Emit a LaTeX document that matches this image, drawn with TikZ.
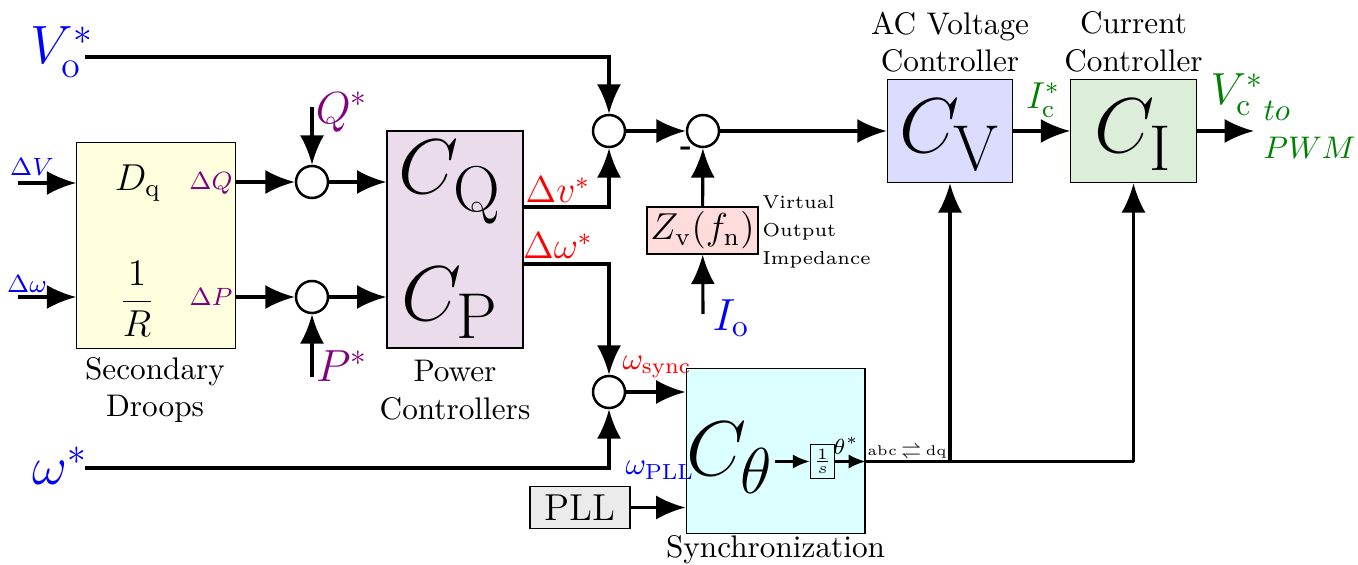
\documentclass[tikz,border=0pt]{standalone}
\usepackage{amsmath}
\usetikzlibrary{arrows.meta}
\definecolor{lblue}{RGB}{0,0,255}
\definecolor{lpurple}{RGB}{128,0,128}
\definecolor{lgreen}{RGB}{0,128,0}
\definecolor{droopfill}{RGB}{255,255,222}
\definecolor{powfill}{RGB}{235,220,236}
\definecolor{cvfill}{RGB}{220,220,255}
\definecolor{cifill}{RGB}{220,237,218}
\definecolor{syncfill}{RGB}{220,255,255}
\definecolor{zvfill}{RGB}{255,220,220}
\definecolor{pllfill}{RGB}{235,235,235}
\begin{document}
\begin{tikzpicture}[
	x=0.01125cm, y=-0.01125cm,
	block/.style={ draw, thin, inner sep=1pt },
	sumc/.style={ circle, draw, thick, fill=white, inner sep=0pt, minimum size=0.36cm },
	arr/.style={ line width=1pt, -{Latex[length=3.3mm,width=2.7mm]} },
	arrs/.style={ line width=0.8pt, -{Latex[length=1.9mm,width=1.6mm]} },
	wire/.style={ line width=1pt },
	lbl/.style={ inner sep=0pt }
]
\useasboundingbox (0,0) rectangle (1358,565);

\node at (156,245.5) (droop) [block,fill=droopfill,minimum width=1.78cm,minimum height=2.31cm] {};
\node at (455,239.5) (power) [block,fill=powfill,minimum width=1.53cm,minimum height=2.44cm] {};
\node at (950,131) (cv) [block,fill=cvfill,minimum width=1.41cm,minimum height=1.16cm] {};
\node at (1133.5,131) (ci) [block,fill=cifill,minimum width=1.41cm,minimum height=1.16cm] {};
\node at (702.5,230.5) (zv) [block,fill=zvfill,minimum width=1.25cm,minimum height=0.53cm] {\large $Z_{\mathrm{v}}(f_{\mathrm{n}})$};
\node at (775.5,451) (sync) [block,fill=syncfill,minimum width=2.01cm,minimum height=1.85cm] {};
\node at (580,507.5) (pll) [block,fill=pllfill,minimum width=1.125cm,minimum height=0.48cm] {\large PLL};
\node at (822.5,461.5) (integ) [block,fill=syncfill,minimum width=0.24cm,minimum height=0.39cm] {\tiny $\frac{1}{s}$};

\node at (609,131) (s1) [sumc] {};
\node at (703,131) (s2) [sumc] {};
\node at (609,392) (s3) [sumc] {};
\node at (312,182) (sq) [sumc] {};
\node at (312,297) (sp) [sumc] {};

\coordinate (voin) at (85,57);
\coordinate (dvin) at (18,183);
\coordinate (dwin) at (18,297);
\coordinate (qin) at (312,107);
\coordinate (pin) at (312,377);
\coordinate (dvout) at (523,207);
\coordinate (dwout) at (523,264);
\coordinate (win) at (85,468);
\coordinate (ioin) at (703,314);
\coordinate (vcout) at (1254,131);
\coordinate (cth) at (775,461.5);
\coordinate (cvtap) at (cv |- integ);
\coordinate (citap) at (ci |- integ);

% texts
\node at (62,52) (volab) [lbl,text=lblue] {\LARGE $V^*_{\mathrm{o}}$};
\node at (60,466) (wlab) [lbl,text=lblue] {\LARGE $\omega^*$};
\node at (32,167) (dvlab) [lbl,text=lblue] {\footnotesize $\Delta V$};
\node at (27,284) (dwlab) [lbl,text=lblue] {\footnotesize $\Delta\omega$};
\node at (138,183) (dqlab) [lbl] {\large $D_{\mathrm{q}}$};
\node at (137,299) (rlab) [lbl] {\large $\dfrac{1}{R}$};
\node at (211,183) (dQlab) [lbl,text=lpurple] {\footnotesize $\Delta Q$};
\node at (211,297) (dPlab) [lbl,text=lpurple] {\footnotesize $\Delta P$};
\node at (342,112) (qlab) [lbl,text=lpurple] {\Large $Q^*$};
\node at (342,366) (plab) [lbl,text=lpurple] {\Large $P^*$};
\node at (450,182) (cqlab) [lbl] {\Huge $C_{\mathrm{Q}}$};
\node at (450,303) (cplab) [lbl] {\Huge $C_{\mathrm{P}}$};
\node at (558,190) (dvslab) [lbl,text=red] {\large $\Delta v^*$};
\node at (558,246) (dwslab) [lbl,text=red] {\large $\Delta\omega^*$};
\node at (686,151) (minus) [lbl] {\textbf{-}};
\node at (731,318) (iolab) [lbl,text=lblue] {\Large $I_{\mathrm{o}}$};
\node at (762,232) (vlab) [lbl,anchor=west,align=left,font=\fontsize{6}{9}\selectfont] {Virtual\\Output\\Impedance};
\node at (950,135) (cvlab) [lbl] {\Huge $C_{\mathrm{V}}$};
\node at (1133.5,135) (cilab) [lbl] {\Huge $C_{\mathrm{I}}$};
\node at (950,42) (acvlab) [lbl,align=center] {AC Voltage\\Controller};
\node at (1133.5,42) (curlab) [lbl,align=center] {Current\\Controller};
\node at (1043,100) (iclab) [lbl,text=lgreen] {\large $I^*_{\mathrm{c}}$};
\node at (1237,95) (vclab) [lbl,text=lgreen] {\Large $V^*_{\mathrm{c}}$};
\node at (1263,130) (pwmlab) [lbl,anchor=west,align=left,text=lgreen] {$to$\\$PWM$};
\node at (155,390) (seclab) [lbl,align=center] {Secondary\\Droops};
\node at (455,390) (powlab) [lbl,align=center] {Power\\Controllers};
\node at (730,458) (cthlab) [lbl] {\Huge $C_{\theta}$};
\node at (846,446) (thlab) [lbl] {\scriptsize $\theta^*$};
\node at (907,452) (abclab) [lbl,font=\fontsize{4.5}{5}\selectfont] {abc$\,\rightleftharpoons\,$dq};
\node at (657,367) (wslab) [lbl,text=red] {$\omega_{\mathrm{sync}}$};
\node at (660,470) (wplab) [lbl,text=lblue] {$\omega_{\mathrm{PLL}}$};
\node at (775.5,550) (synclab) [lbl] {Synchronization};

% connections
\draw[arr] (dvin) -- (droop.west |- dvin);
\draw[arr] (dwin) -- (droop.west |- dwin);
\draw[arr] (droop.east |- sq) -- (sq);
\draw[arr] (droop.east |- sp) -- (sp);
\draw[arr] (qin) -- (sq);
\draw[arr] (pin) -- (sp);
\draw[arr] (sq) -- (power.west |- sq);
\draw[arr] (sp) -- (power.west |- sp);
\draw[arr] (voin) -| (s1);
\draw[arr] (dvout) -| (s1);
\draw[arr] (s1) -- (s2);
\draw[arr] (zv) -- (s2);
\draw[arr] (ioin) -- (zv);
\draw[arr] (s2) -- (cv);
\draw[arr] (cv) -- (ci);
\draw[arr] (ci) -- (vcout);
\draw[arr] (dwout) -| (s3);
\draw[arr] (win) -| (s3);
\draw[arr] (s3) -- (s3 -| sync.west);
\draw[arr] (pll) -- (pll -| sync.west);
\draw[arrs] (cth) -- (integ);
\draw[arrs] (integ) -- (integ -| sync.east);
\draw[wire] (integ -| sync.east) -- (citap);
\draw[arr] (cvtap) -- (cv);
\draw[arr] (citap) -- (ci);

\end{tikzpicture}
\end{document}
